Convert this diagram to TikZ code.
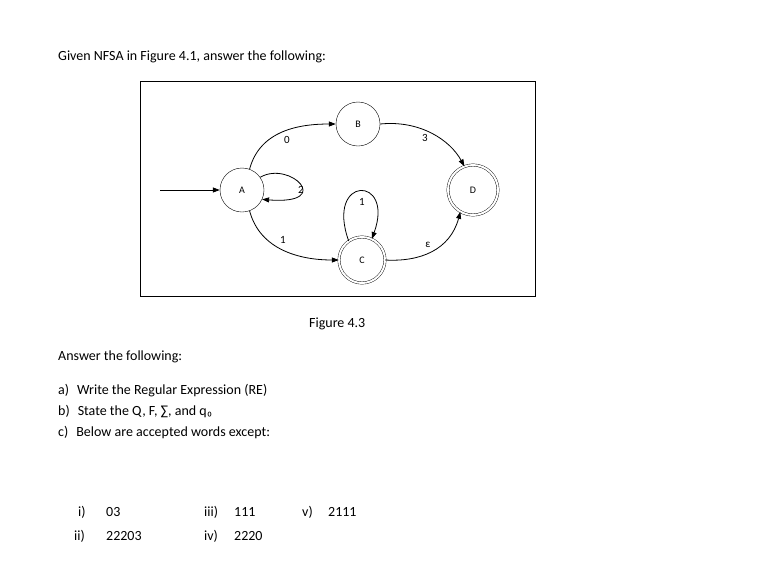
\documentclass[tikz,border=0pt]{standalone}
\usepackage{fontspec}
\setmainfont{Carlito}
\usetikzlibrary{arrows.meta}
\begin{document}
\begin{tikzpicture}[x=1pt,y=-1pt,
  st/.style={circle,draw,minimum size=44pt,inner sep=0pt,font=\fontsize{10}{12}\selectfont},
  acc/.style={st,double,double distance=2pt,minimum size=46pt},
  ed/.style={-{Triangle[length=7pt,width=5pt]},thick},
  lb/.style={font=\fontsize{11}{13}\selectfont},
  tx/.style={anchor=west,inner sep=0pt,font=\fontsize{14}{16}\selectfont}]
\useasboundingbox (0,0) rectangle (777,576);
\draw[thick] (140,81) rectangle (535,296);
\node[st] (A) at (242,190) {A};
\node[st] (B) at (358,124) {B};
\node[acc] (C) at (362,260) {C};
\node[acc,minimum size=50pt] (D) at (473,190) {D};
\coordinate (s) at (160,190);
\draw[ed] (s) -- (A);
\draw[ed] (A.70) .. controls (260,130) and (300,124) .. (B.west);
\draw[ed] (B.east) .. controls (420,120) and (450,140) .. (D.110);
\draw[ed] (A.290) .. controls (260,250) and (300,260) .. (C.west);
\draw[ed] (C.east) .. controls (420,262) and (450,250) .. (D.240);
\draw[ed] (A.35) .. controls (290,160) and (335,205) .. (A.-25);
\draw[ed] (C.125) .. controls (325,175) and (395,175) .. (C.65);
\node[lb] at (301,190) {2};
\node[lb] at (362,202) {1};
\node[lb] at (287,140) {0};
\node[lb] at (425,138) {3};
\node[lb] at (283,240) {1};
\node[lb] at (428,245) {ε};
\node[tx] (t0) at (58,57) {Given NFSA in Figure 4.1, answer the following:};
\node[tx] (f) at (309,324) {Figure 4.3};
\node[tx] (t1) at (58,357) {Answer the following:};
\node[tx] at (58,391) {a)\hspace{8pt}Write the Regular Expression (RE)};
\node[tx] at (58,412) {b)\hspace{8pt}State the Q, F, ∑, and q₀};
\node[tx] at (58,433) {c)\hspace{8pt}Below are accepted words except:};
\node[tx] at (78,512) {i)};  \node[tx] at (106,512) {03};
\node[tx] at (74,536) {ii)}; \node[tx] at (106,536) {22203};
\node[tx] at (204,512) {iii)}; \node[tx] at (234,512) {111};
\node[tx] at (204,536) {iv)}; \node[tx] at (234,536) {2220};
\node[tx] at (302,512) {v)}; \node[tx] at (328,512) {2111};
\end{tikzpicture}
\end{document}
